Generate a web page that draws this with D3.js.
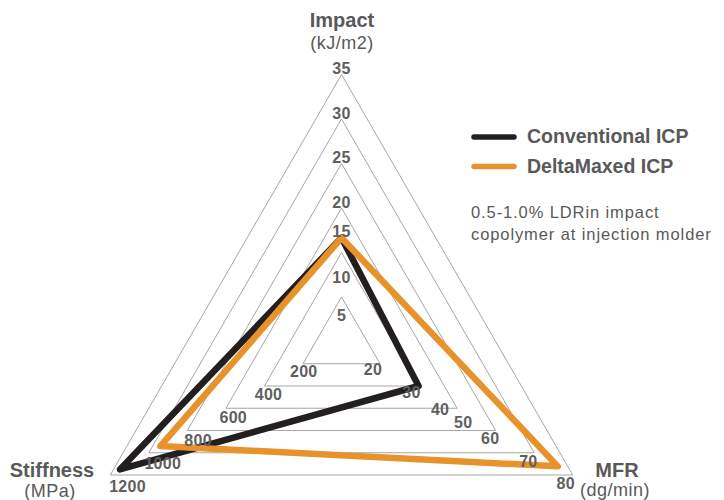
<!DOCTYPE html>
<html>
<head>
  <meta charset="utf-8">
  <title>ICP radar</title>
  <script src="https://d3js.org/d3.v7.min.js"></script>
  <style type="text/css">
    body { margin: 0; background: #fff; }
    svg { display: block; font-family: "Liberation Sans", Arial, sans-serif; }
    .grid { fill: none; stroke: #a6a6a6; stroke-width: 1px; }
    .tick { font-size: 16px; font-weight: bold; fill: #5f5f5f; letter-spacing: 0.3px; }
    .title { font-size: 20px; font-weight: bold; fill: #595959; }
    .unit { font-size: 18px; fill: #595959; letter-spacing: 0.5px; }
    .series { fill: none; stroke-width: 6.5px; stroke-linejoin: round; }
  </style>
</head>
<body>
<div id="chart"></div>
<script>
// ---------- data ----------
const axes = ["Impact", "MFR", "Stiffness"];
const axisUnits = ["(kJ/m2)", "(dg/min)", "(MPa)"];

const impactTicks = [5, 10, 15, 20, 25, 30, 35];
const mfrTicks = [20, 30, 40, 50, 60, 70, 80];
const stiffnessTicks = [200, 400, 600, 800, 1000, 1200];

const seriesNames = ["Conventional ICP", "DeltaMaxed ICP"];
const conventional = [15, 30, 1150];   // Impact, MFR, Stiffness
const deltaMaxed = [15, 76, 940];

const note = ["0.5-1.0% LDRin impact", "copolymer at injection molder"];

// ---------- layout ----------
const width = 724, height = 500;
const cx = 341.5, cy = 341.5;
const rings = 6;

const svg = d3.select("#chart").append("svg")
    .attr("width", width)
    .attr("height", height);

// ring index -> pixels
const r = d3.scaleLinear().domain([0, rings]).range([0, 267]);

// axis direction
const angle = d3.scaleOrdinal()
    .domain(axes)
    .range([-90, 30, 150].map(a => a * Math.PI / 180));

// value -> ring index, per axis (the tick spacing of the original is uneven)
const ringScale = {
  Impact: d3.scaleLinear().domain(impactTicks).range([0.45, 1.3, 2.33, 3, 4, 5, 6]),
  MFR: d3.scaleLinear().domain(mfrTicks).range([1, 2, 2.74, 3.34, 4.04, 5.03, 6]),
  Stiffness: d3.scaleLinear().domain([0, 1200]).range([0, rings])
};

function pt(axis, u) {
  const a = angle(axis);
  return [cx + r(u) * Math.cos(a), cy + r(u) * Math.sin(a)];
}

// ---------- grid triangles ----------
svg.append("g").selectAll("path")
    .data(d3.range(1, rings + 1))
  .enter().append("path")
    .attr("class", "grid")
    .attr("d", k => d3.line()(axes.map(a => pt(a, k))) + "Z");

// ---------- series ----------
const colors = d3.scaleOrdinal().domain(seriesNames).range(["#231f20", "#e8922b"]);
const polyLine = d3.line().curve(d3.curveLinearClosed);

const series = [
  { name: seriesNames[0], values: conventional },
  { name: seriesNames[1], values: deltaMaxed }
];

svg.append("g").selectAll("path")
    .data(series)
  .enter().append("path")
    .attr("class", "series")
    .attr("stroke", d => colors(d.name))
    .attr("d", d => polyLine(d.values.map((v, i) => pt(axes[i], ringScale[axes[i]](v)))));

// ---------- tick labels ----------
const ticks = svg.append("g").attr("class", "tick");

ticks.selectAll(".imp")
    .data(impactTicks)
  .enter().append("text")
    .attr("text-anchor", "middle")
    .attr("x", cx)
    .attr("y", v => pt("Impact", ringScale.Impact(v))[1] - 0.5)
    .text(v => v);

ticks.selectAll(".mfr")
    .data(mfrTicks)
  .enter().append("text")
    .attr("text-anchor", "middle")
    .attr("x", v => pt("MFR", ringScale.MFR(v))[0] - 7)
    .attr("y", v => {
      const u = ringScale.MFR(v);
      return pt("MFR", u)[1] + 5.5 + 0.4 * u + 5.7;
    })
    .text(v => v);

ticks.selectAll(".stf")
    .data(stiffnessTicks)
  .enter().append("text")
    .attr("text-anchor", "middle")
    .attr("x", v => {
      const u = ringScale.Stiffness(v);
      return pt("Stiffness", u)[0] - 2.5 + 3.3 * u;
    })
    .attr("y", v => {
      const u = ringScale.Stiffness(v);
      return pt("Stiffness", u)[1] + 6.5 + 0.75 * u + 5.7;
    })
    .text(v => v);

// ---------- axis titles ----------
const titlePos = [
  { x: 342, y: 27, uy: 49 },
  { x: 617, y: 477, uy: 496 },
  { x: 52, y: 477, uy: 497 }
];

axes.forEach((a, i) => {
  svg.append("text")
      .attr("class", "title")
      .attr("text-anchor", "middle")
      .attr("x", titlePos[i].x)
      .attr("y", titlePos[i].y)
      .text(a);
  svg.append("text")
      .attr("class", "unit")
      .attr("text-anchor", "middle")
      .attr("x", titlePos[i].x - (i === 0 ? 0 : 2))
      .attr("y", titlePos[i].uy)
      .text(axisUnits[i]);
});

// ---------- legend ----------
const legend = svg.append("g").attr("transform", "translate(472,137)");

const item = legend.selectAll("g")
    .data(seriesNames)
  .enter().append("g")
    .attr("transform", (d, i) => "translate(0," + (i * 29.5) + ")");

item.append("line")
    .attr("x1", 2).attr("x2", 42)
    .attr("stroke", d => colors(d))
    .attr("stroke-width", 5.5)
    .attr("stroke-linecap", "round");

item.append("text")
    .attr("x", 55)
    .attr("y", 6)
    .style("font-size", "19.5px")
    .style("font-weight", "bold")
    .style("fill", "#595959")
    .text(d => d);

// ---------- note ----------
svg.append("g").selectAll("text")
    .data(note)
  .enter().append("text")
    .attr("x", 471)
    .attr("y", (d, i) => 217.5 + i * 22)
    .style("font-size", "16.5px")
    .style("letter-spacing", "0.9px")
    .style("fill", "#595959")
    .text(d => d);
</script>
</body>
</html>
